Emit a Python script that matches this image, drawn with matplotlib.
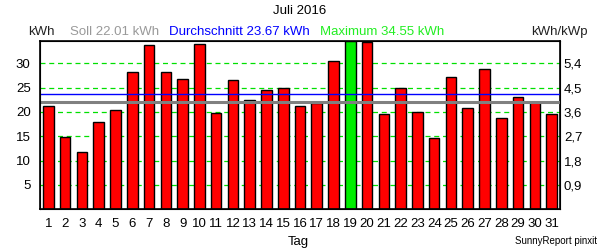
import matplotlib
matplotlib.use("Agg")
import matplotlib.pyplot as plt

plt.rcParams['font.family'] = ['Liberation Sans', 'DejaVu Sans']

days = list(range(1, 32))
kwh = [21.1, 14.8, 11.7, 17.9, 20.3, 28.1, 33.8, 28.1, 26.8, 34.0,
       19.7, 26.6, 22.5, 24.4, 25.0, 21.1, 21.9, 30.4, 34.55, 34.4,
       19.5, 25.0, 19.9, 14.6, 27.2, 20.8, 28.9, 18.7, 23.0, 22.1, 19.5]
soll = 22.01
avg = 23.67
maxval = 34.55
yticks = [5, 10, 15, 20, 25, 30]
ytick_right = ["0,9", "1,8", "2,7", "3,6", "4,5", "5,4"]

FS = 9.5

fig = plt.figure(figsize=(6, 2.5), dpi=100)
ax = fig.add_axes([0.0672, 0.163, 0.8656, 0.674])

colors = ['#00ee00' if v == maxval else '#ff0000' for v in kwh]
ax.bar(days, kwh, width=0.63, color=colors, edgecolor='black', lw=1.0, zorder=2)

for y in yticks:
    ax.axhline(y, color='#00e000', ls=(0, (4, 3)), lw=0.9, zorder=1)
ax.axhline(avg, color='blue', lw=1.0, zorder=3)
ax.axhline(soll, color='gray', lw=2.2, zorder=3)

ax.set_xlim(0.52, 31.48)
ax.set_ylim(0, 34.6)
ax.set_xticks(days)
ax.set_xticklabels([str(d) for d in days], fontsize=FS)
ax.set_yticks(yticks)
ax.set_yticklabels([str(y) for y in yticks], fontsize=FS)
ax.tick_params(axis='both', length=0, pad=6)
ax.tick_params(axis='y', pad=7)
for s in ax.spines.values():
    s.set_linewidth(1.2)

ax2 = ax.twinx()
ax2.set_ylim(ax.get_ylim())
ax2.set_yticks(yticks)
ax2.set_yticklabels(ytick_right, fontsize=FS)
ax2.tick_params(axis='y', length=0, pad=3)

fig.text(0.5, 0.955, "Juli 2016", ha='center', va='center', fontsize=FS)
fig.text(0.047, 0.872, "kWh", ha='left', va='center', fontsize=FS, color='#222222')
fig.text(0.117, 0.872, "Soll %.2f kWh" % soll, ha='left', va='center', fontsize=FS, color='#999999')
fig.text(0.282, 0.872, "Durchschnitt %.2f kWh" % avg, ha='left', va='center', fontsize=FS, color='blue')
fig.text(0.533, 0.872, "Maximum %.2f kWh" % maxval, ha='left', va='center', fontsize=FS, color='#22ee22')
fig.text(0.98, 0.872, "kWh/kWp", ha='right', va='center', fontsize=FS, color='#222222')
fig.text(0.497, 0.032, "Tag", ha='center', va='center', fontsize=FS)
fig.text(0.995, 0.035, "SunnyReport pinxit", ha='right', va='center', fontsize=7)

fig.savefig("out.png", dpi=100)
